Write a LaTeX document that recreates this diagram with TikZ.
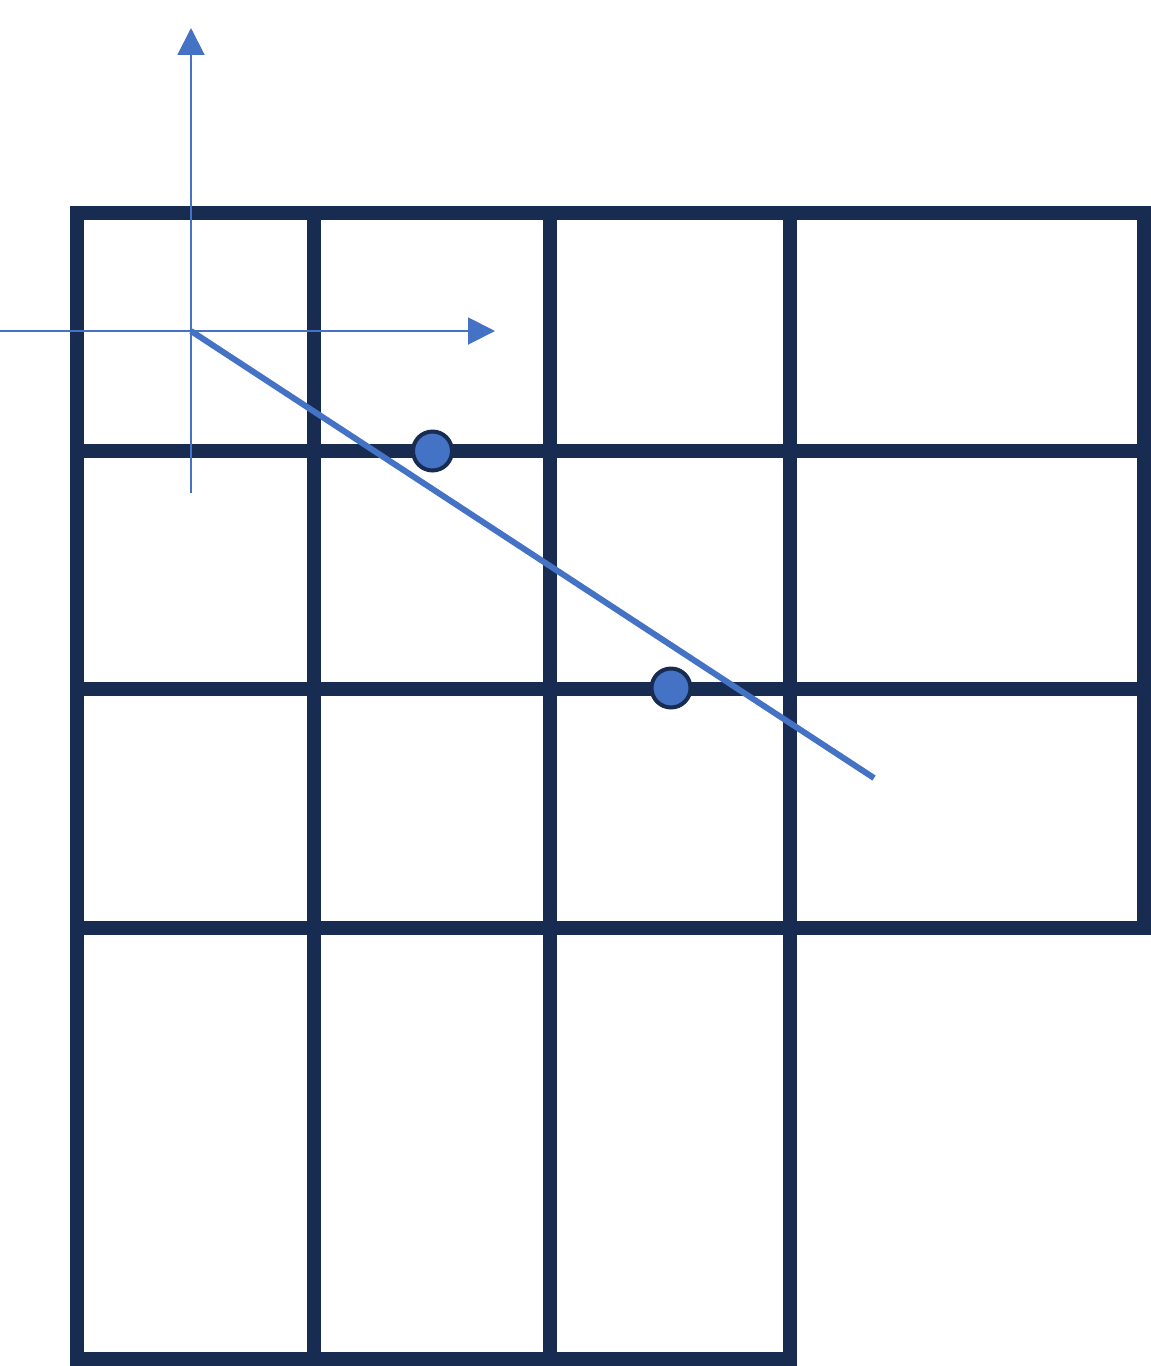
\documentclass[tikz,border=0pt]{standalone}
\usepackage{tikz}
\usetikzlibrary{arrows.meta}
\definecolor{gridnavy}{RGB}{24,44,81}
\definecolor{hlblue}{RGB}{68,114,196}

\begin{document}
\begin{tikzpicture}[x=0.02cm,y=-0.02cm,
	gridline/.style={gridnavy,line width=0.28cm,line join=miter},
	axisline/.style={hlblue,line width=0.04cm,-{Triangle[length=0.54cm,width=0.54cm]}},
	dot/.style={circle,fill=hlblue,draw=gridnavy,line width=0.08cm,minimum size=0.78cm,inner sep=0pt}]
	\useasboundingbox (0,0) rectangle (1151,1366);

	% grid
	\coordinate (A) at (77,213);
	\coordinate (B) at (1144,213);
	\coordinate (C) at (1144,928);
	\coordinate (D) at (790,928);
	\coordinate (E) at (790,1359);
	\coordinate (F) at (77,1359);

	\draw[gridline] (A) -- (B) -- (C) -- (D) -- (E) -- (F) -- cycle;
	\draw[gridline] (313.5,213) -- (313.5,1359);
	\draw[gridline] (550,213) -- (550,1359);
	\draw[gridline] (790,213) -- (D);
	\draw[gridline] (77,451) -- (1144,451);
	\draw[gridline] (77,689) -- (1144,689);
	\draw[gridline] (77,928) -- (D);

	% axes
	\coordinate (O) at (191,331);
	\coordinate (X0) at (0,331);
	\coordinate (X1) at (495,331);
	\coordinate (Y0) at (191,493);
	\coordinate (Y1) at (191,28);

	\draw[axisline] (X0) -- (X1);
	\draw[axisline] (Y0) -- (Y1);

	% line and points
	\coordinate (P) at (874,778);
	\draw[hlblue,line width=0.12cm] (O) -- (P);

	\node[dot] (M) at (432.5,451) {};
	\node[dot] (N) at (671,688) {};
\end{tikzpicture}
\end{document}
